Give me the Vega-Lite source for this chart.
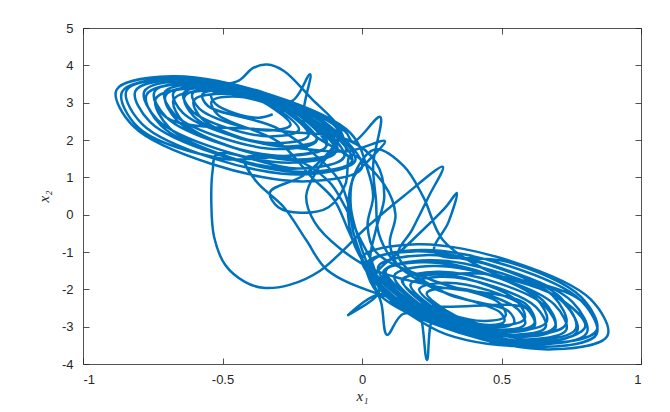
{
"$schema": "https://vega.github.io/schema/vega-lite/v6.json",
"width": 558, "height": 336,
"autosize": {"type": "none"},
"padding": {"left": 83, "top": 28, "right": 29, "bottom": 48},
"background": "white",
"config": {
  "view": {"stroke": null},
  "axis": {"domainColor": "#262626", "tickColor": "#262626", "labelColor": "#262626", "labelFont": "Liberation Sans", "labelFontSize": 13, "grid": false, "tickSize": -6, "domainWidth": 0.8, "tickWidth": 0.8, "titleColor": "#262626", "titleFont": "Liberation Serif", "titleFontStyle": "italic", "titleFontWeight": "normal", "titleFontSize": 15}
},
"data": {"values": [
{"t":1,"x1":-0.320,"x2":2.690},{"t":2,"x1":-0.369,"x2":2.598},{"t":3,"x1":-0.454,"x2":2.712},{"t":4,"x1":-0.525,"x2":2.966},{"t":5,"x1":-0.540,"x2":3.210},{"t":6,"x1":-0.491,"x2":3.302},{"t":7,"x1":-0.406,"x2":3.188},{"t":8,"x1":-0.335,"x2":2.934},
{"t":9,"x1":-0.256,"x2":2.404},{"t":10,"x1":-0.335,"x2":2.257},{"t":11,"x1":-0.470,"x2":2.440},{"t":12,"x1":-0.584,"x2":2.846},{"t":13,"x1":-0.608,"x2":3.236},{"t":14,"x1":-0.529,"x2":3.383},{"t":15,"x1":-0.394,"x2":3.200},{"t":16,"x1":-0.280,"x2":2.794},
{"t":17,"x1":-0.192,"x2":2.118},{"t":18,"x1":-0.300,"x2":1.916},{"t":19,"x1":-0.487,"x2":2.167},{"t":20,"x1":-0.642,"x2":2.725},{"t":21,"x1":-0.676,"x2":3.262},{"t":22,"x1":-0.568,"x2":3.464},{"t":23,"x1":-0.381,"x2":3.213},{"t":24,"x1":-0.226,"x2":2.655},
{"t":25,"x1":-0.128,"x2":1.832},{"t":26,"x1":-0.266,"x2":1.575},{"t":27,"x1":-0.503,"x2":1.895},{"t":28,"x1":-0.701,"x2":2.605},{"t":29,"x1":-0.744,"x2":3.288},{"t":30,"x1":-0.606,"x2":3.545},{"t":31,"x1":-0.369,"x2":3.225},{"t":32,"x1":-0.171,"x2":2.515},
{"t":33,"x1":-0.064,"x2":1.546},{"t":34,"x1":-0.231,"x2":1.234},{"t":35,"x1":-0.520,"x2":1.622},{"t":36,"x1":-0.760,"x2":2.484},{"t":37,"x1":-0.812,"x2":3.314},{"t":38,"x1":-0.645,"x2":3.626},{"t":39,"x1":-0.356,"x2":3.238},{"t":40,"x1":-0.116,"x2":2.376},
{"t":41,"x1":0.000,"x2":1.260},{"t":42,"x1":-0.197,"x2":0.893},{"t":43,"x1":-0.536,"x2":1.350},{"t":44,"x1":-0.819,"x2":2.364},{"t":45,"x1":-0.880,"x2":3.340},{"t":46,"x1":-0.683,"x2":3.707},{"t":47,"x1":-0.344,"x2":3.250},{"t":48,"x1":-0.061,"x2":2.236},
{"t":49,"x1":-0.032,"x2":1.950},{"t":50,"x1":0.065,"x2":2.620},{"t":51,"x1":0.040,"x2":1.330},{"t":52,"x1":0.050,"x2":0.400},{"t":53,"x1":0.060,"x2":-0.500},{"t":54,"x1":0.120,"x2":-1.300},{"t":55,"x1":0.250,"x2":-1.950},
{"t":56,"x1":0.495,"x2":-2.616},{"t":57,"x1":0.510,"x2":-2.860},{"t":58,"x1":0.461,"x2":-2.952},{"t":59,"x1":0.376,"x2":-2.838},{"t":60,"x1":0.305,"x2":-2.584},
{"t":61,"x1":0.232,"x2":-2.104},{"t":62,"x1":0.311,"x2":-1.957},{"t":63,"x1":0.446,"x2":-2.140},{"t":64,"x1":0.560,"x2":-2.546},{"t":65,"x1":0.584,"x2":-2.936},{"t":66,"x1":0.505,"x2":-3.083},{"t":67,"x1":0.370,"x2":-2.900},{"t":68,"x1":0.256,"x2":-2.494},
{"t":69,"x1":0.174,"x2":-1.868},{"t":70,"x1":0.282,"x2":-1.666},{"t":71,"x1":0.469,"x2":-1.917},{"t":72,"x1":0.624,"x2":-2.475},{"t":73,"x1":0.658,"x2":-3.012},{"t":74,"x1":0.550,"x2":-3.214},{"t":75,"x1":0.363,"x2":-2.963},{"t":76,"x1":0.208,"x2":-2.405},
{"t":77,"x1":0.116,"x2":-1.632},{"t":78,"x1":0.254,"x2":-1.375},{"t":79,"x1":0.491,"x2":-1.695},{"t":80,"x1":0.689,"x2":-2.405},{"t":81,"x1":0.732,"x2":-3.088},{"t":82,"x1":0.594,"x2":-3.345},{"t":83,"x1":0.490,"x2":-3.250},{"t":84,"x1":0.466,"x2":-3.460},{"t":85,"x1":0.440,"x2":-3.150},{"t":86,"x1":0.357,"x2":-3.025},{"t":87,"x1":0.159,"x2":-2.315},
{"t":88,"x1":0.058,"x2":-1.396},{"t":89,"x1":0.225,"x2":-1.084},{"t":90,"x1":0.514,"x2":-1.472},{"t":91,"x1":0.754,"x2":-2.334},{"t":92,"x1":0.806,"x2":-3.164},{"t":93,"x1":0.639,"x2":-3.476},{"t":94,"x1":0.350,"x2":-3.088},{"t":95,"x1":0.110,"x2":-2.226},
{"t":96,"x1":0.000,"x2":-1.160},{"t":97,"x1":0.197,"x2":-0.793},{"t":98,"x1":0.536,"x2":-1.250},{"t":99,"x1":0.819,"x2":-2.264},{"t":100,"x1":0.880,"x2":-3.240},{"t":101,"x1":0.683,"x2":-3.607},{"t":102,"x1":0.344,"x2":-3.150},{"t":103,"x1":0.061,"x2":-2.136},
{"t":104,"x1":0.000,"x2":-1.160},{"t":105,"x1":-0.030,"x2":-0.500},{"t":106,"x1":-0.050,"x2":0.300},{"t":107,"x1":-0.090,"x2":1.000},{"t":108,"x1":-0.300,"x2":2.300},
{"t":109,"x1":-0.552,"x2":2.909},{"t":110,"x1":-0.572,"x2":3.222},{"t":111,"x1":-0.509,"x2":3.339},{"t":112,"x1":-0.400,"x2":3.193},{"t":113,"x1":-0.310,"x2":2.869},
{"t":114,"x1":-0.226,"x2":2.270},{"t":115,"x1":-0.319,"x2":2.098},{"t":116,"x1":-0.478,"x2":2.312},{"t":117,"x1":-0.611,"x2":2.789},{"t":118,"x1":-0.640,"x2":3.248},{"t":119,"x1":-0.547,"x2":3.420},{"t":120,"x1":-0.388,"x2":3.206},{"t":121,"x1":-0.255,"x2":2.729},
{"t":122,"x1":-0.162,"x2":1.984},{"t":123,"x1":-0.284,"x2":1.757},{"t":124,"x1":-0.495,"x2":2.040},{"t":125,"x1":-0.670,"x2":2.669},{"t":126,"x1":-0.708,"x2":3.274},{"t":127,"x1":-0.586,"x2":3.501},{"t":128,"x1":-0.375,"x2":3.218},{"t":129,"x1":-0.200,"x2":2.589},
{"t":130,"x1":-0.094,"x2":1.680},{"t":131,"x1":-0.247,"x2":1.394},{"t":132,"x1":-0.512,"x2":1.750},{"t":133,"x1":-0.733,"x2":2.541},{"t":134,"x1":-0.780,"x2":3.302},{"t":135,"x1":-0.627,"x2":3.588},{"t":136,"x1":-0.362,"x2":3.232},{"t":137,"x1":-0.250,"x2":3.050},{"t":138,"x1":-0.186,"x2":3.760},{"t":139,"x1":-0.205,"x2":2.400},
{"t":140,"x1":-0.034,"x2":1.412},{"t":141,"x1":-0.215,"x2":1.075},{"t":142,"x1":-0.527,"x2":1.495},{"t":143,"x1":-0.788,"x2":2.428},{"t":144,"x1":-0.844,"x2":3.326},{"t":145,"x1":-0.663,"x2":3.663},{"t":146,"x1":-0.500,"x2":3.500},{"t":147,"x1":-0.440,"x2":3.600},{"t":148,"x1":-0.390,"x2":3.930},{"t":149,"x1":-0.340,"x2":4.020},{"t":150,"x1":-0.280,"x2":3.850},{"t":151,"x1":-0.180,"x2":3.100},{"t":152,"x1":-0.080,"x2":2.300},
{"t":153,"x1":-0.064,"x2":1.546},{"t":154,"x1":-0.231,"x2":1.234},{"t":155,"x1":-0.520,"x2":1.622},{"t":156,"x1":-0.535,"x2":1.200},{"t":157,"x1":-0.540,"x2":0.300},{"t":158,"x1":-0.530,"x2":-0.600},{"t":159,"x1":-0.490,"x2":-1.350},{"t":160,"x1":-0.420,"x2":-1.800},{"t":161,"x1":-0.355,"x2":-1.960},{"t":162,"x1":-0.260,"x2":-1.880},{"t":163,"x1":-0.150,"x2":-1.500},{"t":164,"x1":0.018,"x2":-0.330},{"t":165,"x1":0.150,"x2":0.500},{"t":166,"x1":0.290,"x2":1.280},{"t":167,"x1":0.240,"x2":0.500},{"t":168,"x1":0.180,"x2":-0.400},{"t":169,"x1":0.130,"x2":-1.100},{"t":170,"x1":0.300,"x2":-2.100},
{"t":171,"x1":0.525,"x2":-2.583},{"t":172,"x1":0.545,"x2":-2.896},{"t":173,"x1":0.482,"x2":-3.013},{"t":174,"x1":0.373,"x2":-2.867},{"t":175,"x1":0.283,"x2":-2.543},
{"t":176,"x1":0.205,"x2":-1.994},{"t":177,"x1":0.298,"x2":-1.822},{"t":178,"x1":0.457,"x2":-2.036},{"t":179,"x1":0.590,"x2":-2.513},{"t":180,"x1":0.619,"x2":-2.972},{"t":181,"x1":0.526,"x2":-3.144},{"t":182,"x1":0.367,"x2":-2.930},{"t":183,"x1":0.234,"x2":-2.453},
{"t":184,"x1":0.147,"x2":-1.758},{"t":185,"x1":0.269,"x2":-1.531},{"t":186,"x1":0.480,"x2":-1.814},{"t":187,"x1":0.655,"x2":-2.443},{"t":188,"x1":0.693,"x2":-3.048},{"t":189,"x1":0.571,"x2":-3.275},{"t":190,"x1":0.360,"x2":-2.992},{"t":191,"x1":0.260,"x2":-2.700},{"t":192,"x1":0.233,"x2":-3.890},{"t":193,"x1":0.210,"x2":-2.700},{"t":194,"x1":0.185,"x2":-2.363},
{"t":195,"x1":0.085,"x2":-1.506},{"t":196,"x1":0.238,"x2":-1.220},{"t":197,"x1":0.503,"x2":-1.576},{"t":198,"x1":0.724,"x2":-2.367},{"t":199,"x1":0.771,"x2":-3.128},{"t":200,"x1":0.618,"x2":-3.414},{"t":201,"x1":0.353,"x2":-3.058},{"t":202,"x1":0.150,"x2":-2.650},{"t":203,"x1":0.090,"x2":-3.220},{"t":204,"x1":0.070,"x2":-2.400},
{"t":205,"x1":0.031,"x2":-1.286},{"t":206,"x1":0.212,"x2":-0.949},{"t":207,"x1":0.524,"x2":-1.369},{"t":208,"x1":0.785,"x2":-2.302},{"t":209,"x1":0.841,"x2":-3.200},{"t":210,"x1":0.660,"x2":-3.537},{"t":211,"x1":0.348,"x2":-3.117},{"t":212,"x1":0.087,"x2":-2.184},
{"t":213,"x1":0.030,"x2":-1.500},{"t":214,"x1":-0.010,"x2":-0.700},{"t":215,"x1":-0.040,"x2":0.200},{"t":216,"x1":-0.030,"x2":1.000},{"t":217,"x1":0.030,"x2":1.500},{"t":218,"x1":0.082,"x2":1.970},{"t":219,"x1":-0.050,"x2":1.700},
{"t":220,"x1":-0.260,"x2":1.816},{"t":221,"x1":-0.447,"x2":2.067},{"t":222,"x1":-0.602,"x2":2.625},{"t":223,"x1":-0.636,"x2":3.162},{"t":224,"x1":-0.528,"x2":3.364},{"t":225,"x1":-0.341,"x2":3.113},{"t":226,"x1":-0.186,"x2":2.555},
{"t":227,"x1":-0.088,"x2":1.732},{"t":228,"x1":-0.226,"x2":1.475},{"t":229,"x1":-0.463,"x2":1.795},{"t":230,"x1":-0.661,"x2":2.505},{"t":231,"x1":-0.704,"x2":3.188},{"t":232,"x1":-0.566,"x2":3.445},{"t":233,"x1":-0.329,"x2":3.125},{"t":234,"x1":-0.131,"x2":2.415},
{"t":235,"x1":-0.024,"x2":1.446},{"t":236,"x1":-0.191,"x2":1.134},{"t":237,"x1":-0.480,"x2":1.522},{"t":238,"x1":-0.720,"x2":2.384},{"t":239,"x1":-0.772,"x2":3.214},{"t":240,"x1":-0.605,"x2":3.526},{"t":241,"x1":-0.316,"x2":3.138},{"t":242,"x1":-0.076,"x2":2.276},
{"t":243,"x1":-0.100,"x2":1.800},{"t":244,"x1":-0.160,"x2":1.200},{"t":245,"x1":-0.200,"x2":0.500},{"t":246,"x1":-0.170,"x2":-0.200},{"t":247,"x1":-0.080,"x2":-0.900},{"t":248,"x1":0.050,"x2":-1.500},{"t":249,"x1":0.250,"x2":-1.900},
{"t":250,"x1":0.584,"x2":-2.375},{"t":251,"x1":0.618,"x2":-2.912},{"t":252,"x1":0.510,"x2":-3.114},{"t":253,"x1":0.323,"x2":-2.863},{"t":254,"x1":0.168,"x2":-2.305},
{"t":255,"x1":0.076,"x2":-1.532},{"t":256,"x1":0.214,"x2":-1.275},{"t":257,"x1":0.451,"x2":-1.595},{"t":258,"x1":0.649,"x2":-2.305},{"t":259,"x1":0.692,"x2":-2.988},{"t":260,"x1":0.554,"x2":-3.245},{"t":261,"x1":0.317,"x2":-2.925},{"t":262,"x1":0.119,"x2":-2.215},
{"t":263,"x1":0.018,"x2":-1.296},{"t":264,"x1":0.185,"x2":-0.984},{"t":265,"x1":0.474,"x2":-1.372},{"t":266,"x1":0.714,"x2":-2.234},{"t":267,"x1":0.766,"x2":-3.064},{"t":268,"x1":0.599,"x2":-3.376},{"t":269,"x1":0.310,"x2":-3.045},{"t":270,"x1":0.070,"x2":-2.126},{"t":271,"x1":-0.050,"x2":-2.690},{"t":272,"x1":0.060,"x2":-2.100},{"t":273,"x1":0.050,"x2":-1.600},
{"t":274,"x1":0.150,"x2":-0.900},{"t":275,"x1":0.300,"x2":0.200},{"t":276,"x1":0.340,"x2":0.580},{"t":277,"x1":0.310,"x2":-0.200},{"t":278,"x1":0.260,"x2":-1.000},
{"t":279,"x1":0.524,"x2":-1.269},{"t":280,"x1":0.785,"x2":-2.202},{"t":281,"x1":0.841,"x2":-3.100},{"t":282,"x1":0.660,"x2":-3.437},{"t":283,"x1":0.348,"x2":-3.017},{"t":284,"x1":0.087,"x2":-2.084},{"t":285,"x1":0.031,"x2":-1.186},
{"t":286,"x1":-0.010,"x2":-0.600},{"t":287,"x1":-0.060,"x2":0.200},{"t":288,"x1":-0.120,"x2":0.900},{"t":289,"x1":-0.250,"x2":1.500},{"t":290,"x1":-0.500,"x2":1.500},
{"t":291,"x1":-0.799,"x2":2.314},{"t":292,"x1":-0.860,"x2":3.290},{"t":293,"x1":-0.663,"x2":3.657},{"t":294,"x1":-0.324,"x2":3.200},{"t":295,"x1":-0.041,"x2":2.186},{"t":296,"x1":0.020,"x2":1.210},
{"t":297,"x1":0.040,"x2":0.500},{"t":298,"x1":0.020,"x2":-0.300},{"t":299,"x1":0.050,"x2":-1.000},{"t":300,"x1":0.250,"x2":-1.750},
{"t":301,"x1":0.492,"x2":-2.364},{"t":302,"x1":0.514,"x2":-2.715},{"t":303,"x1":0.443,"x2":-2.848},{"t":304,"x1":0.321,"x2":-2.683},{"t":305,"x1":0.220,"x2":-2.318},
{"t":306,"x1":0.143,"x2":-1.747},{"t":307,"x1":0.241,"x2":-1.563},{"t":308,"x1":0.411,"x2":-1.792},{"t":309,"x1":0.553,"x2":-2.299},{"t":310,"x1":0.583,"x2":-2.787},{"t":311,"x1":0.485,"x2":-2.971},{"t":312,"x1":0.315,"x2":-2.742},{"t":313,"x1":0.173,"x2":-2.235},
{"t":314,"x1":0.082,"x2":-1.495},{"t":315,"x1":0.212,"x2":-1.252},{"t":316,"x1":0.435,"x2":-1.554},{"t":317,"x1":0.622,"x2":-2.223},{"t":318,"x1":0.662,"x2":-2.867},{"t":319,"x1":0.532,"x2":-3.110},{"t":320,"x1":0.309,"x2":-2.808},{"t":321,"x1":0.122,"x2":-2.139},
{"t":322,"x1":0.027,"x2":-1.275},{"t":323,"x1":0.185,"x2":-0.981},{"t":324,"x1":0.456,"x2":-1.347},{"t":325,"x1":0.682,"x2":-2.158},{"t":326,"x1":0.731,"x2":-2.939},{"t":327,"x1":0.573,"x2":-3.233},{"t":328,"x1":0.302,"x2":-2.867},{"t":329,"x1":0.076,"x2":-2.056},
{"t":330,"x1":0.000,"x2":-1.200},{"t":331,"x1":-0.050,"x2":-0.400},{"t":332,"x1":-0.100,"x2":0.400},{"t":333,"x1":-0.180,"x2":1.000},{"t":334,"x1":-0.300,"x2":1.950},
{"t":335,"x1":-0.517,"x2":2.678},{"t":336,"x1":-0.539,"x2":3.029},{"t":337,"x1":-0.468,"x2":3.162},{"t":338,"x1":-0.346,"x2":2.997},{"t":339,"x1":-0.245,"x2":2.632},
{"t":340,"x1":-0.163,"x2":2.013},{"t":341,"x1":-0.261,"x2":1.829},{"t":342,"x1":-0.431,"x2":2.058},{"t":343,"x1":-0.573,"x2":2.565},{"t":344,"x1":-0.603,"x2":3.053},{"t":345,"x1":-0.505,"x2":3.237},{"t":346,"x1":-0.335,"x2":3.008},{"t":347,"x1":-0.193,"x2":2.501},
{"t":348,"x1":-0.095,"x2":1.709},{"t":349,"x1":-0.225,"x2":1.466},{"t":350,"x1":-0.448,"x2":1.768},{"t":351,"x1":-0.635,"x2":2.437},{"t":352,"x1":-0.675,"x2":3.081},{"t":353,"x1":-0.545,"x2":3.324},{"t":354,"x1":-0.322,"x2":3.022},{"t":355,"x1":-0.135,"x2":2.353},
{"t":356,"x1":-0.035,"x2":1.441},{"t":357,"x1":-0.193,"x2":1.147},{"t":358,"x1":-0.464,"x2":1.513},{"t":359,"x1":-0.690,"x2":2.324},{"t":360,"x1":-0.739,"x2":3.105},{"t":361,"x1":-0.581,"x2":3.399},{"t":362,"x1":-0.310,"x2":3.033},{"t":363,"x1":-0.084,"x2":2.222},
{"t":364,"x1":-0.200,"x2":1.100},{"t":365,"x1":-0.330,"x2":0.600},{"t":366,"x1":-0.300,"x2":0.200},{"t":367,"x1":-0.220,"x2":0.050},{"t":368,"x1":-0.120,"x2":0.200},{"t":369,"x1":-0.060,"x2":0.800},{"t":370,"x1":-0.040,"x2":1.600},
{"t":371,"x1":0.080,"x2":0.800},{"t":372,"x1":0.120,"x2":0.000},{"t":373,"x1":0.100,"x2":-0.800},{"t":374,"x1":0.150,"x2":-1.500},{"t":375,"x1":0.450,"x2":-1.600},
{"t":376,"x1":0.785,"x2":-2.302},{"t":377,"x1":0.841,"x2":-3.200},{"t":378,"x1":0.660,"x2":-3.537},{"t":379,"x1":0.348,"x2":-3.117},{"t":380,"x1":0.087,"x2":-2.184},
{"t":381,"x1":0.030,"x2":-1.300},{"t":382,"x1":0.050,"x2":-0.400},{"t":383,"x1":0.080,"x2":0.500},{"t":384,"x1":0.050,"x2":1.400},{"t":385,"x1":-0.050,"x2":2.000},{"t":386,"x1":-0.300,"x2":2.250},
{"t":387,"x1":-0.701,"x2":2.605},{"t":388,"x1":-0.744,"x2":3.288},{"t":389,"x1":-0.606,"x2":3.545},{"t":390,"x1":-0.369,"x2":3.225},{"t":391,"x1":-0.171,"x2":2.515},{"t":392,"x1":-0.128,"x2":1.832},{"t":393,"x1":-0.266,"x2":1.575},{"t":394,"x1":-0.420,"x2":1.500},
{"t":395,"x1":-0.380,"x2":0.900},{"t":396,"x1":-0.280,"x2":0.200},{"t":397,"x1":-0.200,"x2":-0.680},{"t":398,"x1":-0.125,"x2":-1.480},{"t":399,"x1":0.050,"x2":-2.100},{"t":400,"x1":0.250,"x2":-2.450},
{"t":401,"x1":0.590,"x2":-2.513},{"t":402,"x1":0.619,"x2":-2.972},{"t":403,"x1":0.526,"x2":-3.144},{"t":404,"x1":0.367,"x2":-2.930},{"t":405,"x1":0.234,"x2":-2.453},
{"t":406,"x1":0.147,"x2":-1.758},{"t":407,"x1":0.269,"x2":-1.531},{"t":408,"x1":0.480,"x2":-1.814},{"t":409,"x1":0.655,"x2":-2.443},{"t":410,"x1":0.693,"x2":-3.048},{"t":411,"x1":0.571,"x2":-3.275},{"t":412,"x1":0.360,"x2":-2.992},{"t":413,"x1":0.185,"x2":-2.363},
{"t":414,"x1":0.000,"x2":-1.200},{"t":415,"x1":-0.050,"x2":0.000},{"t":416,"x1":-0.020,"x2":1.200},{"t":417,"x1":0.050,"x2":1.750},{"t":418,"x1":0.150,"x2":1.300},{"t":419,"x1":0.220,"x2":0.470},{"t":420,"x1":0.290,"x2":-0.680},
{"t":421,"x1":0.450,"x2":-1.500},{"t":422,"x1":0.700,"x2":-2.200},{"t":423,"x1":0.800,"x2":-3.000},{"t":424,"x1":0.600,"x2":-3.500},{"t":425,"x1":0.300,"x2":-3.200},{"t":426,"x1":0.100,"x2":-2.300}
]},
"layer": [
  {
    "mark": {"type": "line", "color": "#0072BD", "strokeWidth": 2.5, "interpolate": "catmull-rom", "clip": true},
    "encoding": {
      "x": {"field": "x1", "type": "quantitative", "scale": {"domain": [-1, 1], "nice": false, "zero": false},
            "axis": {"orient": "bottom", "values": [-1, -0.5, 0, 0.5, 1], "labelExpr": "datum.value < 0 ? '-' + format(-datum.value, '') : format(datum.value, '')", "labelPadding": 15, "title": "x₁", "titlePadding": 2}},
      "y": {"field": "x2", "type": "quantitative", "scale": {"domain": [-4, 5], "nice": false, "zero": false},
            "axis": {"orient": "left", "values": [-4, -3, -2, -1, 0, 1, 2, 3, 4, 5], "labelExpr": "datum.value < 0 ? '-' + format(-datum.value, '') : format(datum.value, '')", "labelPadding": 16, "title": "x₂", "titlePadding": 10}},
      "order": {"field": "t", "type": "quantitative"}
    }
  },
  {
    "mark": {"type": "point", "opacity": 0},
    "encoding": {
      "x": {"field": "x1", "type": "quantitative", "axis": {"orient": "top", "values": [-1, -0.5, 0, 0.5, 1], "labels": false, "title": null}},
      "y": {"field": "x2", "type": "quantitative", "axis": {"orient": "right", "values": [-4, -3, -2, -1, 0, 1, 2, 3, 4, 5], "labels": false, "title": null}}
    }
  }
],
"resolve": {"axis": {"x": "independent", "y": "independent"}}
}
